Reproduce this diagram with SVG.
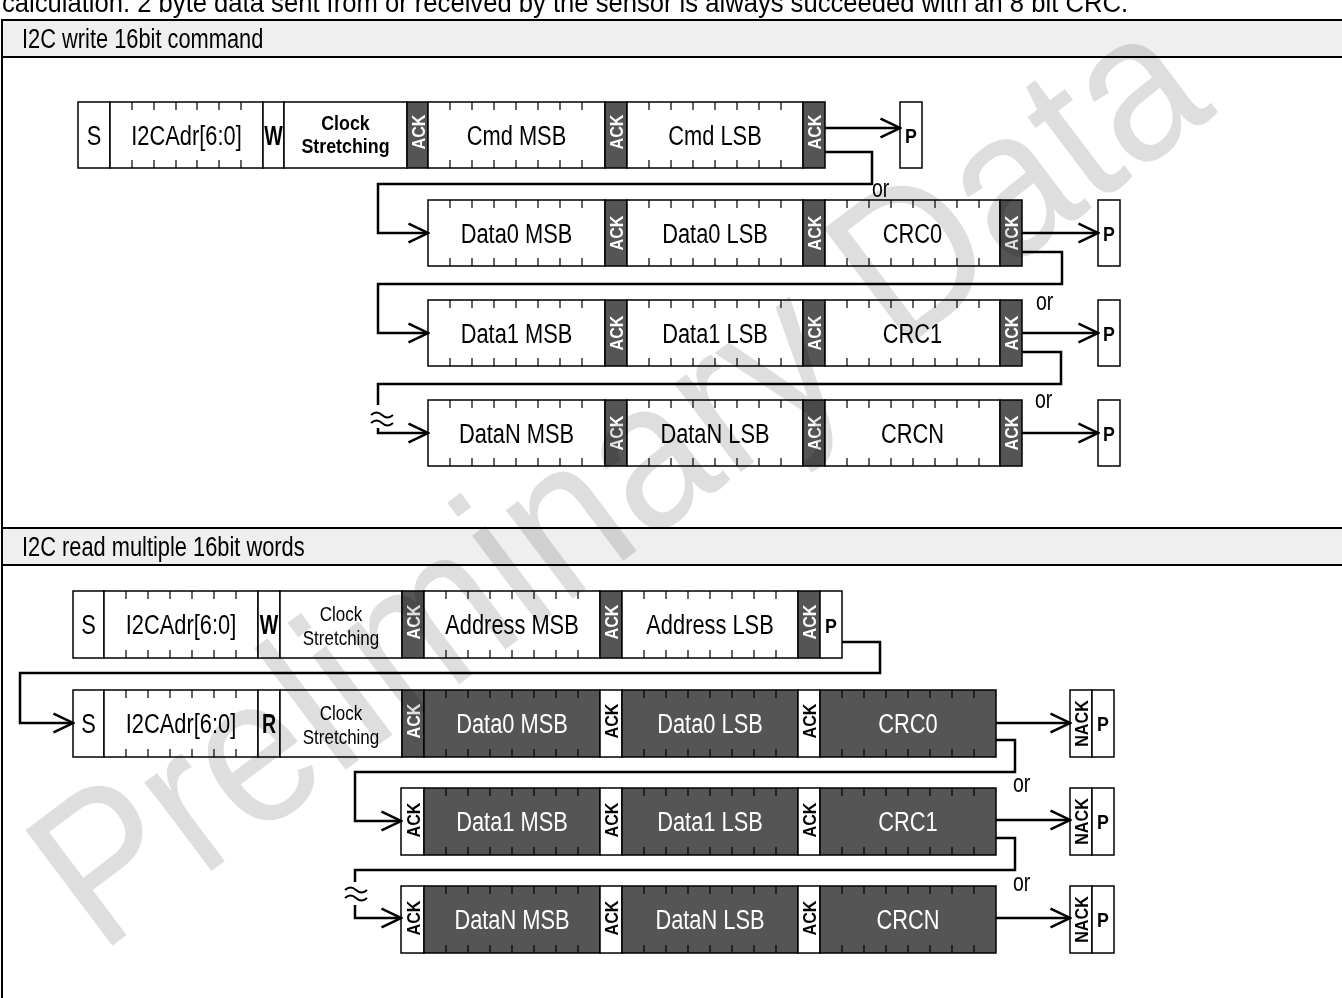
<svg xmlns="http://www.w3.org/2000/svg" width="1342" height="998" viewBox="0 0 1342 998">
<style>
.bx{fill:#fff;stroke:#000;stroke-width:1.5}
.dk{fill:#555;stroke:#000;stroke-width:1.5}
.t{font-family:'Liberation Sans',Arial,sans-serif;font-size:28px;text-anchor:middle;fill:#000}
.ts{font-family:'Liberation Sans',Arial,sans-serif;font-size:28px;fill:#000}
.w{fill:#fff}
.bd{font-weight:bold}
.p{font-family:'Liberation Sans',Arial,sans-serif;font-size:21px;font-weight:bold;text-anchor:middle;fill:#000}
.a{font-family:'Liberation Sans',Arial,sans-serif;font-size:19px;font-weight:bold;text-anchor:middle;fill:#fff}
.ab{fill:#000}
.cs{font-family:'Liberation Sans',Arial,sans-serif;font-size:21px;font-weight:bold;text-anchor:middle;fill:#000}
.cr{font-family:'Liberation Sans',Arial,sans-serif;font-size:20px;text-anchor:middle;fill:#000}
.or{font-family:'Liberation Sans',Arial,sans-serif;font-size:25px;fill:#000}
.cn{fill:none;stroke:#000;stroke-width:2.5}
.hd{fill:#efefef;stroke:#000;stroke-width:2}
.fr{fill:none;stroke:#000;stroke-width:2}
.wv{fill:none;stroke:#000;stroke-width:2}
.wm{font-family:'Liberation Sans',Arial,sans-serif;font-size:210px;fill:#dedede;mix-blend-mode:multiply}
</style>
<defs>
<marker id="ah" viewBox="0 0 22 22" refX="20.5" refY="11" markerWidth="22" markerHeight="22" markerUnits="userSpaceOnUse" orient="auto">
<path d="M1,1.5 L20.5,11 L1,20.5" fill="none" stroke="#000" stroke-width="2.5"/>
</marker>
<path id="t8a" fill="none" stroke="#000" stroke-width="1.2" d="M22 0v8M44 0v8M66 0v8M88 0v8M110 0v8M132 0v8M154 0v8M22 66v-8M44 66v-8M66 66v-8M88 66v-8M110 66v-8M132 66v-8M154 66v-8"/>
<path id="t8b" fill="none" stroke="#000" stroke-width="1.2" d="M22 0v8M44 0v8M66 0v8M88 0v8M110 0v8M132 0v8M154 0v8M22 67v-8M44 67v-8M66 67v-8M88 67v-8M110 67v-8M132 67v-8M154 67v-8"/>
<path id="t7a" fill="none" stroke="#000" stroke-width="1.2" d="M22 0v8M44 0v8M66 0v8M87 0v8M109 0v8M131 0v8M22 66v-8M44 66v-8M66 66v-8M87 66v-8M109 66v-8M131 66v-8"/>
<path id="t7b" fill="none" stroke="#000" stroke-width="1.2" d="M22 0v8M44 0v8M66 0v8M88 0v8M110 0v8M132 0v8M22 67v-8M44 67v-8M66 67v-8M88 67v-8M110 67v-8M132 67v-8"/>
</defs>

<rect x="0" y="0" width="1342" height="998" fill="#fff"/>

<text class="ts" x="2" y="12" textLength="1126" lengthAdjust="spacingAndGlyphs">calculation. 2 byte data sent from or received by the sensor is always succeeded with an 8 bit CRC.</text>

<g id="frame">
<rect class="hd" x="2" y="20" width="1346" height="37"/>
<rect class="fr" x="2" y="57" width="1346" height="471"/>
<rect class="hd" x="2" y="528" width="1346" height="37"/>
<rect class="fr" x="2" y="565" width="1346" height="440"/>
<text class="ts" transform="translate(22,48) scale(.78,1)">I2C write 16bit command</text>
<text class="ts" transform="translate(22,556) scale(.78,1)">I2C read multiple 16bit words</text>
</g>

<!-- WRITE section -->
<g id="w-row1">
<rect class="bx" x="78" y="102" width="32" height="66"/>
<rect class="bx" x="110" y="102" width="153" height="66"/>
<rect class="bx" x="263" y="102" width="21" height="66"/>
<rect class="bx" x="284" y="102" width="123" height="66"/>
<rect class="dk" x="407" y="102" width="21" height="66"/>
<rect class="bx" x="428" y="102" width="177" height="66"/>
<rect class="dk" x="605" y="102" width="22" height="66"/>
<rect class="bx" x="627" y="102" width="176" height="66"/>
<rect class="dk" x="803" y="102" width="22" height="66"/>
<use href="#t7a" x="110" y="102"/>
<use href="#t8a" x="428" y="102"/>
<use href="#t8a" x="627" y="102"/>
<text class="t" transform="translate(94,145) scale(.78,1)">S</text>
<text class="t" transform="translate(186.5,145) scale(.78,1)">I2CAdr[6:0]</text>
<text class="t bd" transform="translate(273.5,145) scale(.7,1)">W</text>
<text class="cs" transform="translate(345.5,130) scale(.85,1)">Clock</text>
<text class="cs" transform="translate(345.5,153) scale(.85,1)">Stretching</text>
<text class="a" transform="translate(417.5,132) rotate(-90) scale(.85,1)" y="7">ACK</text>
<text class="t" transform="translate(516.5,145) scale(.78,1)">Cmd MSB</text>
<text class="a" transform="translate(616,132) rotate(-90) scale(.85,1)" y="7">ACK</text>
<text class="t" transform="translate(715,145) scale(.78,1)">Cmd LSB</text>
<text class="a" transform="translate(814,132) rotate(-90) scale(.85,1)" y="7">ACK</text>
</g>
<g id="w-p1">
<rect class="bx" x="900" y="102" width="22" height="66"/>
<text class="p" transform="translate(911,142.5) scale(.85,1)">P</text>
</g>

<g id="w-row2">
<rect class="bx" x="428" y="200" width="177" height="66"/>
<rect class="dk" x="605" y="200" width="22" height="66"/>
<rect class="bx" x="627" y="200" width="176" height="66"/>
<rect class="dk" x="803" y="200" width="22" height="66"/>
<rect class="bx" x="825" y="200" width="175" height="66"/>
<rect class="dk" x="1000" y="200" width="22" height="66"/>
<use href="#t8a" x="428" y="200"/>
<use href="#t8a" x="627" y="200"/>
<use href="#t8a" x="825" y="200"/>
<text class="t" transform="translate(516.5,243) scale(.78,1)">Data0 MSB</text>
<text class="a" transform="translate(616,233) rotate(-90) scale(.85,1)" y="7">ACK</text>
<text class="t" transform="translate(715,243) scale(.78,1)">Data0 LSB</text>
<text class="a" transform="translate(814,233) rotate(-90) scale(.85,1)" y="7">ACK</text>
<text class="t" transform="translate(912.5,243) scale(.78,1)">CRC0</text>
<text class="a" transform="translate(1011,233) rotate(-90) scale(.85,1)" y="7">ACK</text>
</g>
<g id="w-p2">
<rect class="bx" x="1098" y="200" width="22" height="66"/>
<text class="p" transform="translate(1109,240.5) scale(.85,1)">P</text>
</g>

<g id="w-row3">
<rect class="bx" x="428" y="300" width="177" height="66"/>
<rect class="dk" x="605" y="300" width="22" height="66"/>
<rect class="bx" x="627" y="300" width="176" height="66"/>
<rect class="dk" x="803" y="300" width="22" height="66"/>
<rect class="bx" x="825" y="300" width="175" height="66"/>
<rect class="dk" x="1000" y="300" width="22" height="66"/>
<use href="#t8a" x="428" y="300"/>
<use href="#t8a" x="627" y="300"/>
<use href="#t8a" x="825" y="300"/>
<text class="t" transform="translate(516.5,343) scale(.78,1)">Data1 MSB</text>
<text class="a" transform="translate(616,333) rotate(-90) scale(.85,1)" y="7">ACK</text>
<text class="t" transform="translate(715,343) scale(.78,1)">Data1 LSB</text>
<text class="a" transform="translate(814,333) rotate(-90) scale(.85,1)" y="7">ACK</text>
<text class="t" transform="translate(912.5,343) scale(.78,1)">CRC1</text>
<text class="a" transform="translate(1011,333) rotate(-90) scale(.85,1)" y="7">ACK</text>
</g>
<g id="w-p3">
<rect class="bx" x="1098" y="300" width="22" height="66"/>
<text class="p" transform="translate(1109,340.5) scale(.85,1)">P</text>
</g>

<g id="w-row4">
<rect class="bx" x="428" y="400" width="177" height="66"/>
<rect class="dk" x="605" y="400" width="22" height="66"/>
<rect class="bx" x="627" y="400" width="176" height="66"/>
<rect class="dk" x="803" y="400" width="22" height="66"/>
<rect class="bx" x="825" y="400" width="175" height="66"/>
<rect class="dk" x="1000" y="400" width="22" height="66"/>
<use href="#t8a" x="428" y="400"/>
<use href="#t8a" x="627" y="400"/>
<use href="#t8a" x="825" y="400"/>
<text class="t" transform="translate(516.5,443) scale(.78,1)">DataN MSB</text>
<text class="a" transform="translate(616,433) rotate(-90) scale(.85,1)" y="7">ACK</text>
<text class="t" transform="translate(715,443) scale(.78,1)">DataN LSB</text>
<text class="a" transform="translate(814,433) rotate(-90) scale(.85,1)" y="7">ACK</text>
<text class="t" transform="translate(912.5,443) scale(.78,1)">CRCN</text>
<text class="a" transform="translate(1011,433) rotate(-90) scale(.85,1)" y="7">ACK</text>
</g>
<g id="w-p4">
<rect class="bx" x="1098" y="400" width="22" height="66"/>
<text class="p" transform="translate(1109,440.5) scale(.85,1)">P</text>
</g>

<!-- READ section -->
<g id="r-row1">
<rect class="bx" x="73" y="591" width="31" height="67"/>
<rect class="bx" x="104" y="591" width="154" height="67"/>
<rect class="bx" x="258" y="591" width="22" height="67"/>
<rect class="bx" x="280" y="591" width="122" height="67"/>
<rect class="dk" x="402" y="591" width="22" height="67"/>
<rect class="bx" x="424" y="591" width="176" height="67"/>
<rect class="dk" x="600" y="591" width="22" height="67"/>
<rect class="bx" x="622" y="591" width="176" height="67"/>
<rect class="dk" x="798" y="591" width="22" height="67"/>
<rect class="bx" x="820" y="591" width="22" height="67"/>
<use href="#t7b" x="104" y="591"/>
<use href="#t8b" x="424" y="591"/>
<use href="#t8b" x="622" y="591"/>
<text class="t" transform="translate(88.5,634) scale(.78,1)">S</text>
<text class="t" transform="translate(181,634) scale(.78,1)">I2CAdr[6:0]</text>
<text class="t bd" transform="translate(269,634) scale(.7,1)">W</text>
<text class="cr" transform="translate(341,621) scale(.85,1)">Clock</text>
<text class="cr" transform="translate(341,645) scale(.85,1)">Stretching</text>
<text class="a" transform="translate(413,622) rotate(-90) scale(.85,1)" y="7">ACK</text>
<text class="t" transform="translate(512,634) scale(.78,1)">Address MSB</text>
<text class="a" transform="translate(611,622) rotate(-90) scale(.85,1)" y="7">ACK</text>
<text class="t" transform="translate(710,634) scale(.78,1)">Address LSB</text>
<text class="a" transform="translate(809,622) rotate(-90) scale(.85,1)" y="7">ACK</text>
<text class="p" transform="translate(831,633) scale(.85,1)">P</text>
</g>

<g id="r-row2">
<rect class="bx" x="73" y="690" width="31" height="67"/>
<rect class="bx" x="104" y="690" width="154" height="67"/>
<rect class="bx" x="258" y="690" width="22" height="67"/>
<rect class="bx" x="280" y="690" width="122" height="67"/>
<rect class="dk" x="402" y="690" width="22" height="67"/>
<rect class="dk" x="424" y="690" width="176" height="67"/>
<rect class="bx" x="600" y="690" width="22" height="67"/>
<rect class="dk" x="622" y="690" width="176" height="67"/>
<rect class="bx" x="798" y="690" width="22" height="67"/>
<rect class="dk" x="820" y="690" width="176" height="67"/>
<use href="#t7b" x="104" y="690"/>
<use href="#t8b" x="424" y="690"/>
<use href="#t8b" x="622" y="690"/>
<use href="#t8b" x="820" y="690"/>
<text class="t" transform="translate(88.5,733) scale(.78,1)">S</text>
<text class="t" transform="translate(181,733) scale(.78,1)">I2CAdr[6:0]</text>
<text class="t bd" transform="translate(269,733) scale(.7,1)">R</text>
<text class="cr" transform="translate(341,720) scale(.85,1)">Clock</text>
<text class="cr" transform="translate(341,744) scale(.85,1)">Stretching</text>
<text class="a" transform="translate(413,721) rotate(-90) scale(.85,1)" y="7">ACK</text>
<text class="t w" transform="translate(512,733) scale(.78,1)">Data0 MSB</text>
<text class="a ab" transform="translate(611,721) rotate(-90) scale(.85,1)" y="7">ACK</text>
<text class="t w" transform="translate(710,733) scale(.78,1)">Data0 LSB</text>
<text class="a ab" transform="translate(809,721) rotate(-90) scale(.85,1)" y="7">ACK</text>
<text class="t w" transform="translate(908,733) scale(.78,1)">CRC0</text>
</g>
<g id="r-np2">
<rect class="bx" x="1070" y="690" width="22" height="67"/>
<rect class="bx" x="1092" y="690" width="22" height="67"/>
<text class="a ab" transform="translate(1081,723.5) rotate(-90) scale(.85,1)" y="7">NACK</text>
<text class="p" transform="translate(1103,731) scale(.85,1)">P</text>
</g>

<g id="r-row3">
<rect class="bx" x="401" y="788" width="23" height="67"/>
<rect class="dk" x="424" y="788" width="176" height="67"/>
<rect class="bx" x="600" y="788" width="22" height="67"/>
<rect class="dk" x="622" y="788" width="176" height="67"/>
<rect class="bx" x="798" y="788" width="22" height="67"/>
<rect class="dk" x="820" y="788" width="176" height="67"/>
<use href="#t8b" x="424" y="788"/>
<use href="#t8b" x="622" y="788"/>
<use href="#t8b" x="820" y="788"/>
<text class="a ab" transform="translate(412.5,820) rotate(-90) scale(.85,1)" y="7">ACK</text>
<text class="t w" transform="translate(512,831) scale(.78,1)">Data1 MSB</text>
<text class="a ab" transform="translate(611,820) rotate(-90) scale(.85,1)" y="7">ACK</text>
<text class="t w" transform="translate(710,831) scale(.78,1)">Data1 LSB</text>
<text class="a ab" transform="translate(809,820) rotate(-90) scale(.85,1)" y="7">ACK</text>
<text class="t w" transform="translate(908,831) scale(.78,1)">CRC1</text>
</g>
<g id="r-np3">
<rect class="bx" x="1070" y="788" width="22" height="67"/>
<rect class="bx" x="1092" y="788" width="22" height="67"/>
<text class="a ab" transform="translate(1081,821.5) rotate(-90) scale(.85,1)" y="7">NACK</text>
<text class="p" transform="translate(1103,829) scale(.85,1)">P</text>
</g>

<g id="r-row4">
<rect class="bx" x="401" y="886" width="23" height="67"/>
<rect class="dk" x="424" y="886" width="176" height="67"/>
<rect class="bx" x="600" y="886" width="22" height="67"/>
<rect class="dk" x="622" y="886" width="176" height="67"/>
<rect class="bx" x="798" y="886" width="22" height="67"/>
<rect class="dk" x="820" y="886" width="176" height="67"/>
<use href="#t8b" x="424" y="886"/>
<use href="#t8b" x="622" y="886"/>
<use href="#t8b" x="820" y="886"/>
<text class="a ab" transform="translate(412.5,918) rotate(-90) scale(.85,1)" y="7">ACK</text>
<text class="t w" transform="translate(512,929) scale(.78,1)">DataN MSB</text>
<text class="a ab" transform="translate(611,918) rotate(-90) scale(.85,1)" y="7">ACK</text>
<text class="t w" transform="translate(710,929) scale(.78,1)">DataN LSB</text>
<text class="a ab" transform="translate(809,918) rotate(-90) scale(.85,1)" y="7">ACK</text>
<text class="t w" transform="translate(908,929) scale(.78,1)">CRCN</text>
</g>
<g id="r-np4">
<rect class="bx" x="1070" y="886" width="22" height="67"/>
<rect class="bx" x="1092" y="886" width="22" height="67"/>
<text class="a ab" transform="translate(1081,919.5) rotate(-90) scale(.85,1)" y="7">NACK</text>
<text class="p" transform="translate(1103,927) scale(.85,1)">P</text>
</g>

<g id="connectors">
<line class="cn" x1="825" y1="128" x2="900" y2="128" marker-end="url(#ah)"/>
<path class="cn" d="M825 152H872V184H378V233H428" marker-end="url(#ah)"/>
<line class="cn" x1="1022" y1="233" x2="1098" y2="233" marker-end="url(#ah)"/>
<path class="cn" d="M1022 252H1062V284H378V333H428" marker-end="url(#ah)"/>
<line class="cn" x1="1022" y1="333" x2="1098" y2="333" marker-end="url(#ah)"/>
<path class="cn" d="M1022 352H1061V384H378V405"/>
<path class="wv" d="M371 415q5.5 -5 11 0t11 0M371 423q5.5 -5 11 0t11 0"/>
<path class="cn" d="M378 428V433H428" marker-end="url(#ah)"/>
<line class="cn" x1="1022" y1="433" x2="1098" y2="433" marker-end="url(#ah)"/>

<path class="cn" d="M842 642H880V673H20V723H73" marker-end="url(#ah)"/>
<line class="cn" x1="996" y1="723" x2="1070" y2="723" marker-end="url(#ah)"/>
<path class="cn" d="M996 740H1015V772H355V821H401" marker-end="url(#ah)"/>
<line class="cn" x1="996" y1="820" x2="1070" y2="820" marker-end="url(#ah)"/>
<path class="cn" d="M996 838H1015V870H355V882"/>
<path class="wv" d="M345 890q5.5 -5 11 0t11 0M345 898q5.5 -5 11 0t11 0"/>
<path class="cn" d="M355 905V918H401" marker-end="url(#ah)"/>
<line class="cn" x1="996" y1="918" x2="1070" y2="918" marker-end="url(#ah)"/>

<text class="or" transform="translate(872,197) scale(.78,1)">or</text>
<text class="or" transform="translate(1036,310) scale(.78,1)">or</text>
<text class="or" transform="translate(1035,408) scale(.78,1)">or</text>
<text class="or" transform="translate(1013,792) scale(.78,1)">or</text>
<text class="or" transform="translate(1013,891) scale(.78,1)">or</text>
</g>

<text class="wm" transform="translate(100,955) rotate(-37)" textLength="1400" lengthAdjust="spacingAndGlyphs">Preliminary Data</text>
</svg>
